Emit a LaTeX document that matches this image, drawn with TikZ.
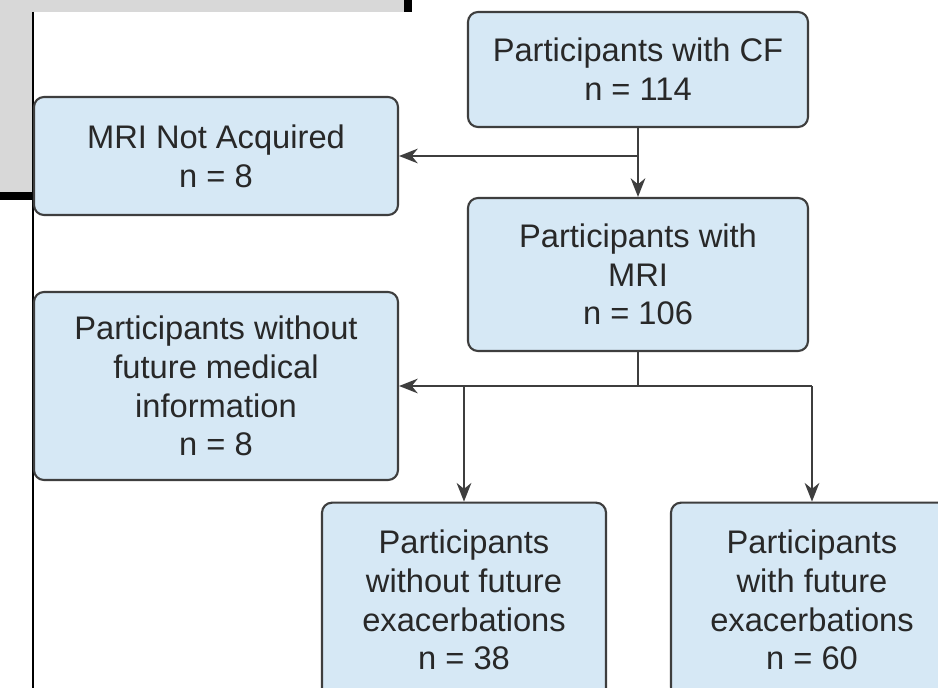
\documentclass[tikz,border=0pt]{standalone}
\usepackage{fontspec}
\setmainfont{Liberation Sans}
\usetikzlibrary{arrows.meta}

\definecolor{boxfill}{RGB}{214,232,245}
\definecolor{boxline}{RGB}{62,62,62}
\definecolor{boxtext}{RGB}{40,40,40}
\definecolor{wingray}{RGB}{216,216,216}

\tikzset{every picture/.style={line width=0.75pt}}

\begin{document}
\begin{tikzpicture}[x=0.75pt,y=0.75pt,yscale=-1,xscale=1,
  flowbox/.style={draw=boxline, fill=boxfill, line width=1.6pt, rounded corners=7.5pt,
    align=center, inner sep=0pt, text=boxtext,
    font=\fontsize{24.5}{29}\selectfont},
  flowline/.style={draw=boxline, line width=1.5pt},
  flowarrow/.style={flowline, -{Stealth[length=14pt, width=11pt, inset=4.5pt]}}]
\useasboundingbox (0,0) rectangle (938,688);
\clip (0,0) rectangle (938,688);

%Shape: Rectangle [id:window]
\fill[white] (0,0) rectangle (938,688);
\fill[wingray] (0,0) rectangle (404,12);
\fill[wingray] (0,12) rectangle (33,193);
\fill[black] (404,0) rectangle (412,12);
\fill[black] (0,192) rectangle (33,200);
%Straight Lines [id:frame]
\draw[black, line width=1.5pt] (33,12) -- (33,688);

% Text Node
\node[flowbox, minimum width=255pt, minimum height=86.25pt] (cf) at (638,69.5) {Participants with CF\\n = 114};
% Text Node
\node[flowbox, minimum width=273pt, minimum height=88.5pt] (notacq) at (216,156) {MRI Not Acquired\\n = 8};
% Text Node
\node[flowbox, minimum width=255pt, minimum height=114.75pt] (mri) at (638,274.5) {Participants with\\MRI\\n = 106};
% Text Node
\node[flowbox, minimum width=273pt, minimum height=141pt] (nofuture) at (216,386) {Participants without\\future medical\\information\\n = 8};
% Text Node
\node[flowbox, minimum width=213pt, minimum height=146pt] (noexac) at (464,600) {Participants\\without future\\exacerbations\\n = 38};
% Text Node
\node[flowbox, minimum width=211.5pt, minimum height=146pt] (exac) at (812,600) {Participants\\with future\\exacerbations\\n = 60};

%Straight Lines [id:cf-mri]
\draw[flowarrow] (cf.south) -- (mri.north);
\draw[flowarrow] (cf.south |- notacq.east) -- (notacq.east);
%Straight Lines [id:mri-split]
\coordinate (split) at (mri.south |- nofuture.east);
\draw[flowline] (mri.south) -- (split);
\draw[flowarrow] (exac.north |- split) -- (nofuture.east);
\draw[flowarrow] (noexac.north |- split) -- (noexac.north);
\draw[flowarrow] (exac.north |- split) -- (exac.north);

\end{tikzpicture}
\end{document}
